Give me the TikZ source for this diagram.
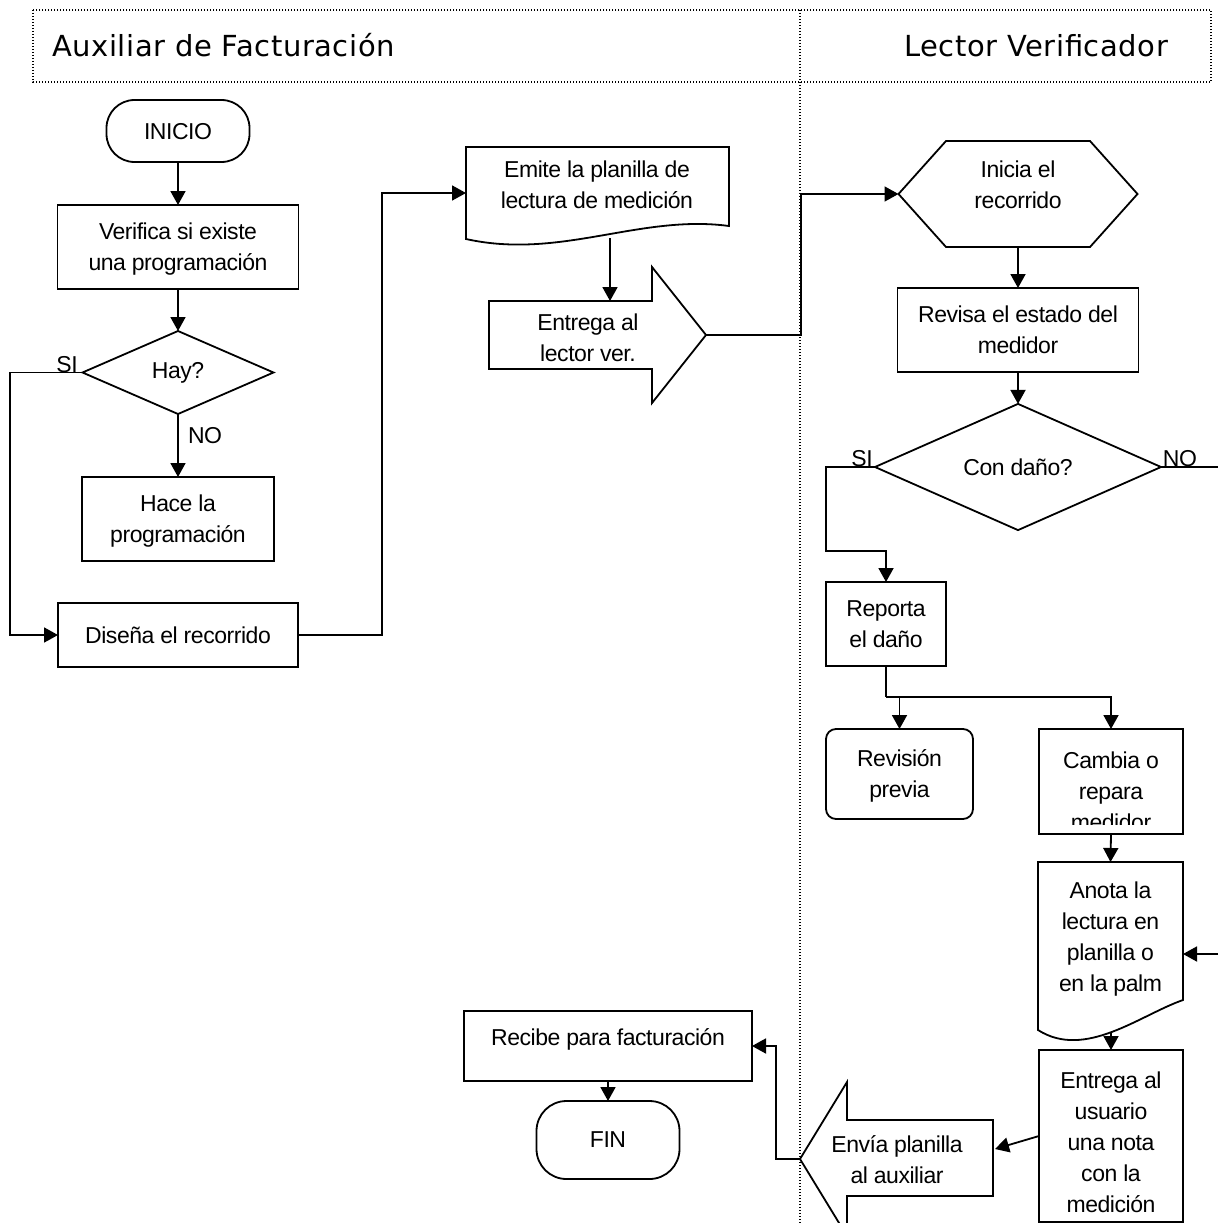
\documentclass[tikz,border=0pt]{standalone}
\usepackage{fontspec}
\setmainfont{Liberation Sans}[LetterSpace=-2]
\newfontfamily\headfont{DejaVu Sans}[LetterSpace=2]
\usetikzlibrary{arrows.meta,shapes.geometric,calc}
\newcommand\bodysize{\fontsize{23}{31}\selectfont}
\begin{document}
\begin{tikzpicture}[x=1pt,y=-1pt,
  every node/.style={inner sep=0pt, outer sep=0pt},
  ln/.style={line width=1.8pt},
  arr/.style={ln, -{Triangle[length=14pt,width=15pt]}},
  box/.style={draw, ln, rectangle, align=center, font=\bodysize, text depth=0pt},
  term/.style={box, rounded corners=28pt},
  dec/.style={draw, ln, diamond, align=center, font=\bodysize},
  txt/.style={align=center, font=\bodysize},
  lbl/.style={font=\bodysize},
  frame/.style={line width=1.4pt, dash pattern=on 1.4pt off 1.6pt},
  head/.style={font=\headfont\fontsize{29}{34}\selectfont}
]
\useasboundingbox (0,0) rectangle (1218,1223);

% swimlane frame
\draw[frame] (33,10) rectangle (1211,82);
\draw[frame] (800,10) -- (800,1223);
\node[head, anchor=base west] (lane1) at (52,57) {Auxiliar de Facturación};
\node[head, anchor=base east] (lane2) at (1168,57) {Lector Verificador};

% left lane
\node[term, minimum width=143pt, minimum height=62pt] (inicio) at (178,131) {INICIO};
\node[box, minimum width=241pt, minimum height=84pt] (verif) at (178,247) {Verifica si existe\\una programación};
\node[dec, minimum width=191pt, minimum height=83pt] (hay) at (178,372.5) {Hay?};
\node[box, minimum width=192pt, minimum height=84pt] (hace) at (178,519) {Hace la\\programación};
\node[box, minimum width=240pt, minimum height=64pt] (disena) at (178,635) {Diseña el recorrido};

% document: emite
\node[minimum width=263pt, minimum height=92pt] (emite) at (597.5,193) {};
\draw[ln, fill=white] (emite.north west) -- (emite.north east) -- (729,226)
  .. controls (640,214) and (560,260) .. (emite.south west) -- cycle;
\node[txt] (emitet) at (597,185) {Emite la planilla de\\lectura de medición};
\coordinate (emiteBot) at (610,238);

% block arrow: entrega al lector
\draw[ln, fill=white] (489,301) -- (652,301) -- (652,267) -- (706,335) -- (652,403)
  -- (652,369) -- (489,369) -- cycle;
\coordinate (entTop) at (610,301);
\coordinate (entTip) at (706,335);
\node[txt] (entrega) at (588,338) {Entrega al\\lector ver.};

% right lane
\node[minimum width=239pt, minimum height=106pt] (hex) at (1018,194) {};
\draw[ln] (hex.west) -- (946,141) -- (1090,141) -- (hex.east) -- (1090,247) -- (946,247) -- cycle;
\node[txt] (hext) at (1018,185) {Inicia el\\recorrido};

\node[box, minimum width=241pt, minimum height=84pt] (revisa) at (1018,330) {Revisa el estado del\\medidor};
\node[dec, minimum width=286pt, minimum height=104pt] (dano) at (1018,467) {Con daño?};
\node[box, minimum width=120pt, minimum height=84pt] (reporta) at (886,624) {Reporta\\el daño};
\node[box, rounded corners=10pt, minimum width=147pt, minimum height=90pt] (previa) at (899.5,774) {Revisión\\previa};

\node[draw, ln, minimum width=144pt, minimum height=105pt] (cambia) at (1111,781.5) {};
\begin{scope}
  \clip (1039,729) rectangle (1183,824);
  \node[txt] (cambiat) at (1111,791) {Cambia o\\repara\\medidor};
\end{scope}

% document: anota
\node[minimum width=145pt, minimum height=168pt] (anota) at (1110.5,946) {};
\draw[ln, fill=white] (anota.north west) -- (anota.north east) -- (1183,1000)
  .. controls (1140,1015) and (1085,1060) .. (anota.south west) -- cycle;
\node[txt] (anotat) at (1110.5,939) {Anota la\\lectura en\\planilla o\\en la palm};
\coordinate (anotaBot) at (1111,1032);

\node[draw, ln, minimum width=144pt, minimum height=172pt] (entu) at (1111,1136) {};
\node[txt] (entut) at (1111,1142) {Entrega al\\usuario\\una nota\\con la\\medición};

% block arrow: envia planilla
\draw[ln, fill=white] (993,1120) -- (847,1120) -- (847,1082) -- (800,1159) -- (847,1236)
  -- (847,1196) -- (993,1196) -- cycle;
\coordinate (envTip) at (800,1159);
\coordinate (envIn) at (995,1149);
\node[txt] (envia) at (897,1160) {Envía planilla\\al auxiliar};

\node[box, text depth=17pt, minimum width=288pt, minimum height=70pt] (recibe) at (608,1046) {Recibe para facturación};
\node[term, rounded corners=30pt, minimum width=143pt, minimum height=78pt] (fin) at (608,1140) {FIN};

% labels
\node[lbl, anchor=base] (si1) at (67,372) {SI};
\node[lbl, anchor=base west] (no1) at (188,443) {NO};
\node[lbl, anchor=base] (si2) at (862,466) {SI};
\node[lbl, anchor=base] (no2) at (1180,466) {NO};

% connectors
\coordinate (offNO) at (1218,467);
\coordinate (offIn) at (1218,954);
\coordinate (br) at (886,697);
\draw[arr] (inicio.south) -- (verif.north);
\draw[arr] (verif.south) -- (hay.north);
\draw[arr] (hay.south) -- (hace.north);
\draw[arr] (hay.west) -- (10,372.5) |- (disena.west);
\draw[arr] (disena.east) -- (382,635) |- (emite.west);
\draw[arr] (emiteBot) -- (entTop);
\draw[arr] (entTip) -- (801,335) |- (hex.west);
\draw[arr] (hex.south) -- (revisa.north);
\draw[arr] (revisa.south) -- (dano.north);
\draw[arr] (dano.west) -- (826,467) -- (826,551) -| (reporta.north);
\draw[ln] (dano.east) -- (offNO);
\draw[ln] (reporta.south) -- (br);
\draw[arr] (br) -| (cambia.north);
\draw[arr] (br -| previa.north) -- (previa.north);
\draw[arr] (cambia.south) -- (anota.north);
\draw[arr] (offIn) -- (offIn -| anota.east);
\draw[arr] (anotaBot) -- (entu.north);
\draw[arr] (entu.west) -- (envIn);
\draw[arr] (envTip) -- (776,1159) |- (recibe.east);
\draw[arr] (recibe.south) -- (fin.north);
\end{tikzpicture}
\end{document}
